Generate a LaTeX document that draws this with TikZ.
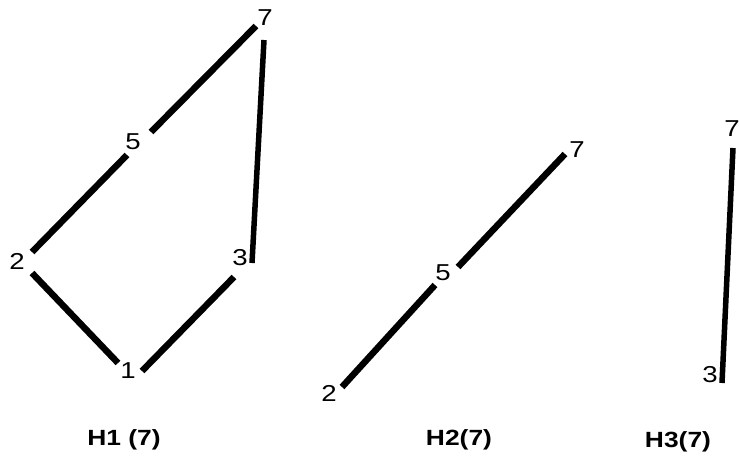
\documentclass[tikz,border=0pt]{standalone}
\usepackage{fontspec}
\newfontfamily\labfont[FakeStretch=1.2]{Liberation Sans}
\begin{document}
\begin{tikzpicture}[x=1pt,y=-1pt,
  num/.style={font=\labfont\fontsize{23}{26}\selectfont, inner sep=0pt},
  captext/.style={font=\labfont\bfseries\fontsize{22}{26}\selectfont, inner sep=0pt},
  edge/.style={line width=6.5pt, line cap=butt, black}]
\useasboundingbox (0,0) rectangle (740,458);
% ---------- H1 ----------
\node[num] (h1n7) at (265,18) {7};
\node[num] (h1n5) at (133,142) {5};
\node[num] (h1n2) at (17,261) {2};
\node[num] (h1n3) at (240,258) {3};
\node[num] (h1n1) at (128,371) {1};
\coordinate (h1a7) at (256,26);
\coordinate (h1b5) at (151,132);
\coordinate (h1a5) at (127,155);
\coordinate (h1b2) at (32,252);
\coordinate (h1a2) at (32,273);
\coordinate (h1b1) at (118,363);
\coordinate (h1a1) at (142,371);
\coordinate (h1b3) at (234,277);
\coordinate (h1c7) at (264,40);
\coordinate (h1c3) at (252,263);
\draw[edge] (h1a7) -- (h1b5);
\draw[edge] (h1a5) -- (h1b2);
\draw[edge] (h1a2) -- (h1b1);
\draw[edge] (h1a1) -- (h1b3);
\draw[edge, line width=5.5pt] (h1c7) -- (h1c3);
\node[captext] (cap1) at (124,440) {H1 (7)};
% ---------- H2 ----------
\node[num] (h2n7) at (577,150) {7};
\node[num] (h2n5) at (443,273) {5};
\node[num] (h2n2) at (329,393) {2};
\coordinate (h2a7) at (565,154);
\coordinate (h2b5) at (458,267);
\coordinate (h2a5) at (435,285);
\coordinate (h2b2) at (342,387);
\draw[edge] (h2a7) -- (h2b5);
\draw[edge] (h2a5) -- (h2b2);
\node[captext] (cap2) at (459,440) {H2(7)};
% ---------- H3 ----------
\node[num] (h3n7) at (732,129) {7};
\node[num] (h3n3) at (710,375) {3};
\coordinate (h3a7) at (733,148);
\coordinate (h3b3) at (722,383);
\draw[edge, line width=5.5pt] (h3a7) -- (h3b3);
\node[captext] (cap3) at (678,442) {H3(7)};
\end{tikzpicture}
\end{document}
